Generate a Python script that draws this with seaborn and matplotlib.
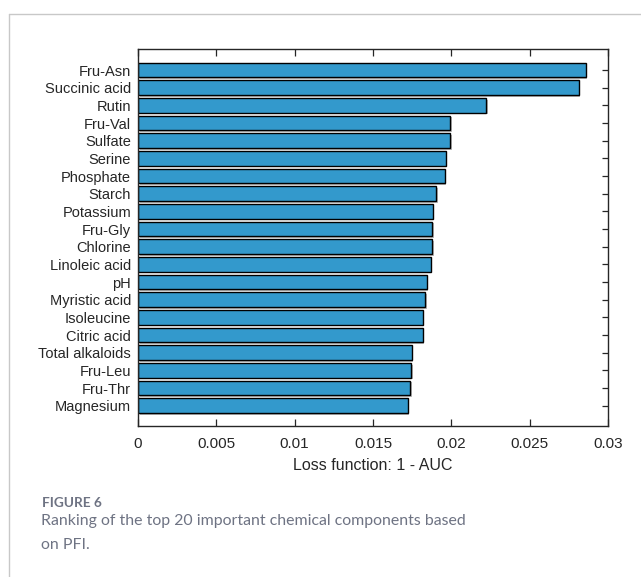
import matplotlib
matplotlib.use("Agg")
import matplotlib.pyplot as plt
import matplotlib.patheffects as pe
from matplotlib.lines import Line2D
import seaborn as sns
import pandas as pd

# Permutation feature importance (loss = 1 - AUC), ranked
components = [
    "Fru-Asn", "Succinic acid", "Rutin", "Fru-Val", "Sulfate", "Serine",
    "Phosphate", "Starch", "Potassium", "Fru-Gly", "Chlorine", "Linoleic acid",
    "pH", "Myristic acid", "Isoleucine", "Citric acid", "Total alkaloids",
    "Fru-Leu", "Fru-Thr", "Magnesium",
]
loss_values = [
    0.02858, 0.02813, 0.02223, 0.01994, 0.01992, 0.01964,
    0.01958, 0.01902, 0.01881, 0.01879, 0.01878, 0.01868,
    0.01843, 0.01832, 0.01817, 0.01816, 0.01747,
    0.01743, 0.01738, 0.01721,
]
x_ticks = [0, 0.005, 0.01, 0.015, 0.02, 0.025, 0.03]
x_tick_labels = ["0", "0.005", "0.01", "0.015", "0.02", "0.025", "0.03"]

df = pd.DataFrame({"component": components, "loss": loss_values})

sns.set_style("white")
plt.rcParams["font.family"] = ["Liberation Sans", "DejaVu Sans"]

fig = plt.figure(figsize=(6.41, 5.77), dpi=100)
ax = fig.add_axes([0.2153, 0.2617, 0.7332, 0.6534])

sns.barplot(data=df, x="loss", y="component", orient="h", color="#3399CC",
            saturation=1, edgecolor="black", linewidth=1.0, width=0.83, ax=ax)

for bar in ax.patches:
    bar.set_path_effects([
        pe.SimplePatchShadow(offset=(1.2, -1.2), shadow_rgbFace="#9a9a9a", alpha=0.7),
        pe.Normal(),
    ])

ax.set_xlim(0, 0.03)
ax.set_ylim(20.15, -1.19)
ax.set_xticks(x_ticks)
ax.set_xticklabels(x_tick_labels)
ax.set_xlabel("Loss function: 1 - AUC", fontsize=11.5, color="#262626", labelpad=4.5)
ax.set_ylabel("")

for s in ax.spines.values():
    s.set_visible(True)
    s.set_color("#262626")
    s.set_linewidth(1.0)

ax.tick_params(axis="x", direction="in", length=5, width=0.9, top=True, bottom=True,
               labelsize=11, labelcolor="#262626", color="#262626", pad=8.2)
ax.tick_params(axis="y", direction="in", length=4, width=0.9, left=True, right=True,
               labelsize=10.5, labelcolor="#262626", color="#262626", pad=5)

# Page frame lines
fig.add_artist(Line2D([9 / 641, 1.0], [1 - 14 / 577, 1 - 14 / 577],
                      transform=fig.transFigure, color="#c8c8c8", lw=1.0))
fig.add_artist(Line2D([9 / 641, 9 / 641], [0.0, 1 - 14 / 577],
                      transform=fig.transFigure, color="#c8c8c8", lw=1.0))

# Caption
cap_font = ["Lato", "Open Sans", "DejaVu Sans"]
fig.text(42 / 641, 1 - 503 / 577, "FIGURE 6", fontsize=9.8, fontweight="bold",
         color="#6e7383", family=cap_font, va="center", ha="left")
fig.text(41 / 641, 1 - 521 / 577, "Ranking of the top 20 important chemical components based",
         fontsize=11.4, color="#6e7383", family=cap_font, va="center", ha="left")
fig.text(41 / 641, 1 - 545 / 577, "on PFI.",
         fontsize=11.4, color="#6e7383", family=cap_font, va="center", ha="left")

fig.savefig("out.png", dpi=100, facecolor="white")
